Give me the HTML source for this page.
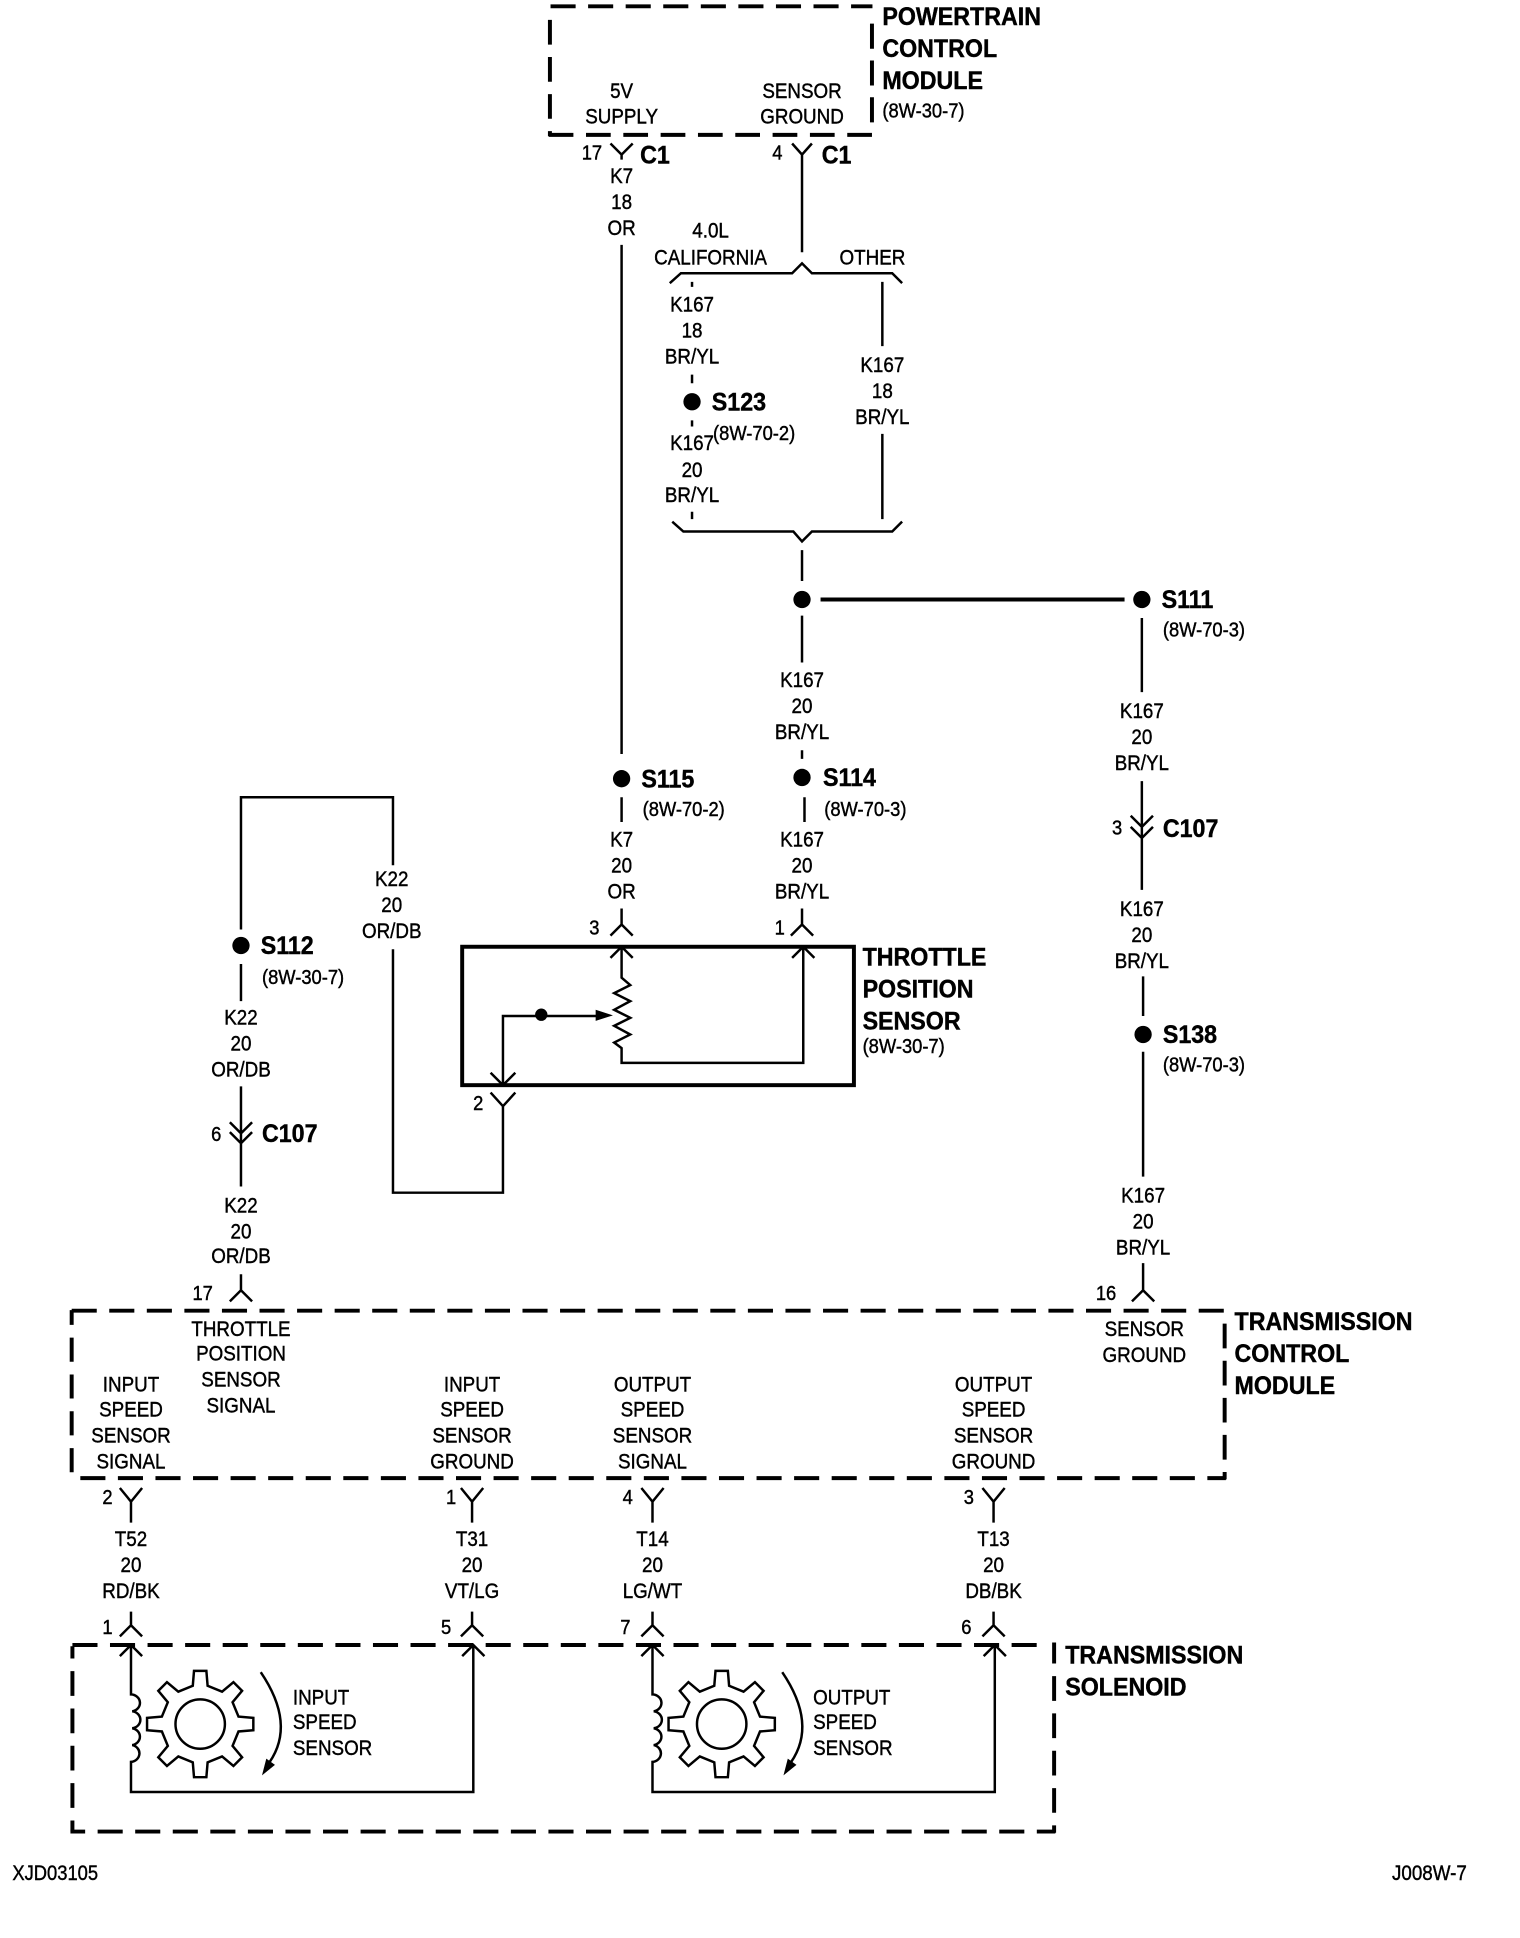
<!DOCTYPE html>
<html><head><meta charset="utf-8"><title>Wiring diagram</title>
<style>
html,body{margin:0;padding:0;background:#fff}
svg{display:block}
text{font-family:"Liberation Sans",sans-serif;font-size:17.5px;fill:#000;stroke:#000;stroke-width:.35px;text-anchor:middle}
text.b{font-weight:bold;font-size:20px;stroke-width:.35px}
text.r{font-size:16.5px}
text.l{text-anchor:start}
text.e{text-anchor:end}
.w{fill:none;stroke:#000;stroke-width:2}
.t{fill:none;stroke:#000;stroke-width:3.2}
.d{fill:none;stroke:#000;stroke-width:3.2}
</style></head><body>
<svg xmlns="http://www.w3.org/2000/svg" width="1520" height="1938" viewBox="0 0 1230 1568">
<rect width="1230" height="1568" fill="#fff"/>

<!-- PCM -->
<path class="d" stroke-dasharray="20.3 10.1" d="M445.5 5H706"/>
<path class="d" stroke-dasharray="20 10" d="M445 16V110"/>
<path class="d" stroke-dasharray="20 10.2" d="M444 109H707"/>
<path class="d" stroke-dasharray="20.3 9.5" d="M705.6 19V99"/>
<text class="b l" transform="matrix(.94 0 0 1 714 20)">POWERTRAIN</text>
<text class="b l" transform="matrix(.94 0 0 1 714 46)">CONTROL</text>
<text class="b l" transform="matrix(.94 0 0 1 714 72)">MODULE</text>
<text class="r l" transform="matrix(.9 0 0 1 714 95)">(8W-30-7)</text>
<text transform="matrix(.87 0 0 1 503 79)">5V</text>
<text transform="matrix(.87 0 0 1 503 100)">SUPPLY</text>
<text transform="matrix(.87 0 0 1 649 79)">SENSOR</text>
<text transform="matrix(.87 0 0 1 649 100)">GROUND</text>
<text class="r" transform="matrix(.9 0 0 1 479 129)">17</text>
<text class="b" transform="matrix(.94 0 0 1 530 132)">C1</text>
<text class="r" transform="matrix(.9 0 0 1 629 129)">4</text>
<text class="b" transform="matrix(.94 0 0 1 677 132)">C1</text>
<path class="w" d="M494 116L503 125L512 116M503 125V129M641 116L649 125L657 116M649 125V204"/>
<text transform="matrix(.87 0 0 1 503 148)">K7</text>
<text transform="matrix(.87 0 0 1 503 169)">18</text>
<text transform="matrix(.87 0 0 1 503 190)">OR</text>
<path class="w" d="M503 198V610"/>

<!-- split brackets -->
<text transform="matrix(.87 0 0 1 575 192)">4.0L</text>
<text transform="matrix(.87 0 0 1 575 214)">CALIFORNIA</text>
<text transform="matrix(.87 0 0 1 706 214)">OTHER</text>
<path class="w" d="M542 229L551 221H641L649 213L657 221H722L730 229"/>
<path class="w" d="M544 422L553 430H642L649 438L657 430H722L730 422"/>
<path class="w" d="M560 228V232M560 303V310M560 340V345M560 414V420M714 228V280M714 351V420M649 445V470"/>
<text transform="matrix(.87 0 0 1 560 252)">K167</text>
<text transform="matrix(.87 0 0 1 560 273)">18</text>
<text transform="matrix(.87 0 0 1 560 294)">BR/YL</text>
<circle cx="560" cy="325" r="7"/>
<text class="b l" transform="matrix(.94 0 0 1 576 332)">S123</text>
<text class="r l" transform="matrix(.9 0 0 1 577 356)">(8W-70-2)</text>
<text transform="matrix(.87 0 0 1 560 364)">K167</text>
<text transform="matrix(.87 0 0 1 560 386)">20</text>
<text transform="matrix(.87 0 0 1 560 406)">BR/YL</text>
<text transform="matrix(.87 0 0 1 714 301)">K167</text>
<text transform="matrix(.87 0 0 1 714 322)">18</text>
<text transform="matrix(.87 0 0 1 714 343)">BR/YL</text>

<!-- S111 row -->
<circle cx="649" cy="485" r="7"/>
<circle cx="924" cy="485" r="7"/>
<path class="t" d="M664 485H910"/>
<path class="w" d="M649 498V536M649 607V614M924 500V560"/>
<text class="b l" transform="matrix(.94 0 0 1 940 492)">S111</text>
<text class="r l" transform="matrix(.9 0 0 1 941 515)">(8W-70-3)</text>
<text transform="matrix(.87 0 0 1 649 556)">K167</text>
<text transform="matrix(.87 0 0 1 649 577)">20</text>
<text transform="matrix(.87 0 0 1 649 598)">BR/YL</text>
<text transform="matrix(.87 0 0 1 924 581)">K167</text>
<text transform="matrix(.87 0 0 1 924 602)">20</text>
<text transform="matrix(.87 0 0 1 924 623)">BR/YL</text>

<!-- S115 / S114 -->
<circle cx="503" cy="630" r="7"/>
<circle cx="649" cy="629" r="7"/>
<text class="b l" transform="matrix(.94 0 0 1 519 637)">S115</text>
<text class="r l" transform="matrix(.9 0 0 1 520 660)">(8W-70-2)</text>
<text class="b l" transform="matrix(.94 0 0 1 666 636)">S114</text>
<text class="r l" transform="matrix(.9 0 0 1 667 660)">(8W-70-3)</text>
<path class="w" d="M503 645V665M651 645V665"/>
<text transform="matrix(.87 0 0 1 503 685)">K7</text>
<text transform="matrix(.87 0 0 1 503 706)">20</text>
<text transform="matrix(.87 0 0 1 503 727)">OR</text>
<text transform="matrix(.87 0 0 1 649 685)">K167</text>
<text transform="matrix(.87 0 0 1 649 706)">20</text>
<text transform="matrix(.87 0 0 1 649 727)">BR/YL</text>
<text class="r" transform="matrix(.9 0 0 1 481 756)">3</text>
<text class="r" transform="matrix(.9 0 0 1 631 756)">1</text>
<path class="w" d="M503 735V749M494 757L503 748L512 757M649 735V749M640 757L649 748L658 757"/>

<!-- C107 right -->
<text class="r" transform="matrix(.9 0 0 1 904 675)">3</text>
<path class="w" d="M924 632V720M915 660L924 669L933 660M915 669L924 678L933 669"/>
<text class="b l" transform="matrix(.94 0 0 1 941 677)">C107</text>
<text transform="matrix(.87 0 0 1 924 741)">K167</text>
<text transform="matrix(.87 0 0 1 924 762)">20</text>
<text transform="matrix(.87 0 0 1 924 783)">BR/YL</text>
<path class="w" d="M925 790V822M925 851V952M925 1022V1045M916 1053L925 1044L934 1053"/>
<circle cx="925" cy="837" r="7"/>
<text class="b l" transform="matrix(.94 0 0 1 941 844)">S138</text>
<text class="r l" transform="matrix(.9 0 0 1 941 867)">(8W-70-3)</text>
<text transform="matrix(.87 0 0 1 925 973)">K167</text>
<text transform="matrix(.87 0 0 1 925 994)">20</text>
<text transform="matrix(.87 0 0 1 925 1015)">BR/YL</text>
<text class="r" transform="matrix(.9 0 0 1 895 1052)">16</text>

<!-- Throttle position sensor -->
<rect class="t" x="374" y="766" width="317" height="112"/>
<text class="b l" transform="matrix(.94 0 0 1 698 781)">THROTTLE</text>
<text class="b l" transform="matrix(.94 0 0 1 698 807)">POSITION</text>
<text class="b l" transform="matrix(.94 0 0 1 698 833)">SENSOR</text>
<text class="r l" transform="matrix(.9 0 0 1 698 852)">(8W-30-7)</text>
<path class="w" d="M494 775L503 766L512 775M503 766V791L510 797L497 803.5L510 810L497 817L510 823.5L497 830L510 837L497 843.5L503 848V860H650V766M641 775L650 766L659 775"/>
<path class="w" d="M484 822H407V878M397 868L407 878L417 868"/>
<circle cx="438" cy="821" r="5"/>
<path d="M482 817L496 821.5L482 826Z"/>
<text class="r" transform="matrix(.9 0 0 1 387 898)">2</text>
<path class="w" d="M397 884L407 895L417 884M407 895V965H318V768M318 700V645H195V752"/>

<!-- K22 -->
<text transform="matrix(.87 0 0 1 317 717)">K22</text>
<text transform="matrix(.87 0 0 1 317 738)">20</text>
<text transform="matrix(.87 0 0 1 317 759)">OR/DB</text>
<circle cx="195" cy="765" r="7"/>
<text class="b l" transform="matrix(.94 0 0 1 211 772)">S112</text>
<text class="r l" transform="matrix(.9 0 0 1 212 796)">(8W-30-7)</text>
<path class="w" d="M195 780V810M195 879V960M186 908L195 917L204 908M186 916L195 925L204 916"/>
<text transform="matrix(.87 0 0 1 195 829)">K22</text>
<text transform="matrix(.87 0 0 1 195 850)">20</text>
<text transform="matrix(.87 0 0 1 195 871)">OR/DB</text>
<text class="r" transform="matrix(.9 0 0 1 175 923)">6</text>
<text class="b l" transform="matrix(.94 0 0 1 212 924)">C107</text>
<text transform="matrix(.87 0 0 1 195 981)">K22</text>
<text transform="matrix(.87 0 0 1 195 1002)">20</text>
<text transform="matrix(.87 0 0 1 195 1022)">OR/DB</text>
<text class="r" transform="matrix(.9 0 0 1 164 1052)">17</text>
<path class="w" d="M195 1031V1045M186 1053L195 1044L204 1053"/>

<!-- TCM -->
<path class="d" stroke-dasharray="20.3 10.1" d="M58 1060.5H991"/>
<path class="d" stroke-dasharray="19.5 10.3" stroke-dashoffset="7.5" d="M58 1060V1192"/>
<path class="d" stroke-dasharray="20.3 10.1" stroke-dashoffset="5.3" d="M992 1196H65"/>
<path class="d" stroke-dasharray="20 10" d="M991 1071V1197"/>
<text class="b l" transform="matrix(.94 0 0 1 999 1076)">TRANSMISSION</text>
<text class="b l" transform="matrix(.94 0 0 1 999 1102)">CONTROL</text>
<text class="b l" transform="matrix(.94 0 0 1 999 1128)">MODULE</text>
<text transform="matrix(.87 0 0 1 195 1081)">THROTTLE</text>
<text transform="matrix(.87 0 0 1 195 1101)">POSITION</text>
<text transform="matrix(.87 0 0 1 195 1122)">SENSOR</text>
<text transform="matrix(.87 0 0 1 195 1143)">SIGNAL</text>
<text transform="matrix(.87 0 0 1 926 1081)">SENSOR</text>
<text transform="matrix(.87 0 0 1 926 1102)">GROUND</text>

<text transform="matrix(.87 0 0 1 106 1126)">INPUT</text>
<text transform="matrix(.87 0 0 1 106 1146)">SPEED</text>
<text transform="matrix(.87 0 0 1 106 1167)">SENSOR</text>
<text transform="matrix(.87 0 0 1 106 1188)">SIGNAL</text>
<text transform="matrix(.87 0 0 1 382 1126)">INPUT</text>
<text transform="matrix(.87 0 0 1 382 1146)">SPEED</text>
<text transform="matrix(.87 0 0 1 382 1167)">SENSOR</text>
<text transform="matrix(.87 0 0 1 382 1188)">GROUND</text>
<text transform="matrix(.87 0 0 1 528 1126)">OUTPUT</text>
<text transform="matrix(.87 0 0 1 528 1146)">SPEED</text>
<text transform="matrix(.87 0 0 1 528 1167)">SENSOR</text>
<text transform="matrix(.87 0 0 1 528 1188)">SIGNAL</text>
<text transform="matrix(.87 0 0 1 804 1126)">OUTPUT</text>
<text transform="matrix(.87 0 0 1 804 1146)">SPEED</text>
<text transform="matrix(.87 0 0 1 804 1167)">SENSOR</text>
<text transform="matrix(.87 0 0 1 804 1188)">GROUND</text>

<!-- TCM lower pins -->
<text class="r" transform="matrix(.9 0 0 1 87 1217)">2</text>
<text class="r" transform="matrix(.9 0 0 1 365 1217)">1</text>
<text class="r" transform="matrix(.9 0 0 1 508 1217)">4</text>
<text class="r" transform="matrix(.9 0 0 1 784 1217)">3</text>
<path class="w" d="M97 1204L106 1215L115 1204M106 1215V1232M373 1204L382 1215L391 1204M382 1215V1232M519 1204L528 1215L537 1204M528 1215V1232M795 1204L804 1215L813 1204M804 1215V1232"/>
<text transform="matrix(.87 0 0 1 106 1251)">T52</text>
<text transform="matrix(.87 0 0 1 106 1272)">20</text>
<text transform="matrix(.87 0 0 1 106 1293)">RD/BK</text>
<text transform="matrix(.87 0 0 1 382 1251)">T31</text>
<text transform="matrix(.87 0 0 1 382 1272)">20</text>
<text transform="matrix(.87 0 0 1 382 1293)">VT/LG</text>
<text transform="matrix(.87 0 0 1 528 1251)">T14</text>
<text transform="matrix(.87 0 0 1 528 1272)">20</text>
<text transform="matrix(.87 0 0 1 528 1293)">LG/WT</text>
<text transform="matrix(.87 0 0 1 804 1251)">T13</text>
<text transform="matrix(.87 0 0 1 804 1272)">20</text>
<text transform="matrix(.87 0 0 1 804 1293)">DB/BK</text>
<text class="r" transform="matrix(.9 0 0 1 87 1322)">1</text>
<text class="r" transform="matrix(.9 0 0 1 361 1322)">5</text>
<text class="r" transform="matrix(.9 0 0 1 506 1322)">7</text>
<text class="r" transform="matrix(.9 0 0 1 782 1322)">6</text>
<path class="w" d="M106 1304V1316M97 1324L106 1315L115 1324M382 1304V1316M373 1324L382 1315L391 1324M528 1304V1316M519 1324L528 1315L537 1324M804 1304V1316M795 1324L804 1315L813 1324"/>

<!-- Solenoid -->
<path class="d" stroke-dasharray="20.3 10.1" d="M58.6 1331H839"/>
<path class="d" stroke-dasharray="20 10.2" stroke-dashoffset="10" d="M58.6 1332V1482"/>
<path class="d" stroke-dasharray="20.3 10.1" stroke-dashoffset="5.3" d="M854 1482H57"/>
<path class="d" stroke-dasharray="20 10.2" stroke-dashoffset="3" d="M853 1329V1483"/>
<text class="b l" transform="matrix(.94 0 0 1 862 1346)">TRANSMISSION</text>
<text class="b l" transform="matrix(.94 0 0 1 862 1372)">SOLENOID</text>

<g id="sensor">
<path class="w" d="M97 1340L106 1331L115 1340M106 1331V1371A7.5 6.9 0 0 1 107 1384.7A7.5 6.9 0 0 1 107 1398.4A7.5 6.9 0 0 1 107 1412A7.5 6.9 0 0 1 106 1425.6V1450H383V1331M374 1340L383 1331L392 1340"/>
<polygon class="w" transform="translate(162 1395)" points="-6,-31 -5,-43 5,-43 6,-31 17.7,-26.2 26.9,-33.9 33.9,-26.9 26.2,-17.7 31,-6 43,-5 43,5 31,6 26.2,17.7 33.9,26.9 26.9,33.9 17.7,26.2 6,31 5,43 -5,43 -6,31 -17.7,26.2 -26.9,33.9 -33.9,26.9 -26.2,17.7 -31,6 -43,5 -43,-5 -31,-6 -26.2,-17.7 -33.9,-26.9 -26.9,-33.9 -17.7,-26.2"/>
<circle class="w" cx="162" cy="1395" r="20"/>
<path class="w" d="M211 1353Q239.5 1395 218 1426"/>
<path d="M212 1436.5L215.5 1423L222.5 1428Z"/>
</g>
<use href="#sensor" x="422"/>
<text class="l" transform="matrix(.87 0 0 1 237 1379)">INPUT</text>
<text class="l" transform="matrix(.87 0 0 1 237 1399)">SPEED</text>
<text class="l" transform="matrix(.87 0 0 1 237 1420)">SENSOR</text>
<text class="l" transform="matrix(.87 0 0 1 658 1379)">OUTPUT</text>
<text class="l" transform="matrix(.87 0 0 1 658 1399)">SPEED</text>
<text class="l" transform="matrix(.87 0 0 1 658 1420)">SENSOR</text>

<text class="l" transform="matrix(.85 0 0 1 10 1521)">XJD03105</text>
<text class="e" transform="matrix(.87 0 0 1 1187 1521)">J008W-7</text>
</svg>
</body></html>
